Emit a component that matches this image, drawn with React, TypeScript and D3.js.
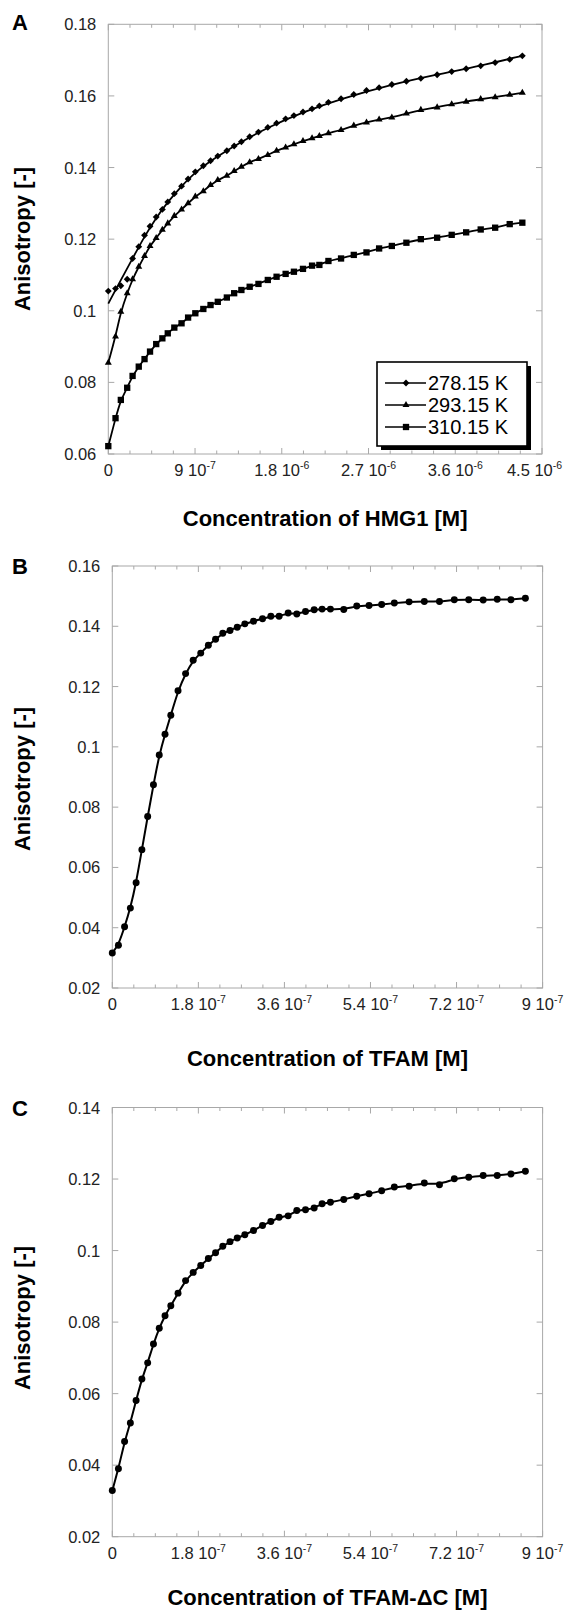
import React from 'react'
import * as d3 from 'd3'

const FONT = '"Liberation Sans", Arial, Helvetica, sans-serif'
const FRAME = '#a8a8a8'

// ---- Panel A: HMG1, concentration in units of 1e-6 M
const A_X = [0, 0.075, 0.13, 0.196, 0.252, 0.316, 0.376, 0.433, 0.497, 0.561, 0.617, 0.685, 0.76, 0.828, 0.903,
  0.986, 1.061, 1.136, 1.23, 1.306, 1.381, 1.467, 1.558, 1.655, 1.746, 1.84, 1.926, 2.02, 2.114, 2.19, 2.284,
  2.415, 2.547, 2.679, 2.81, 2.942, 3.093, 3.243, 3.412, 3.563, 3.713, 3.864, 4.014, 4.165, 4.296]
const A_278 = [0.1055, 0.1062, 0.107, 0.1088, 0.1146, 0.1179, 0.1211, 0.1236, 0.1262, 0.1283, 0.1304, 0.1327,
  0.1348, 0.1368, 0.1388, 0.1405, 0.1419, 0.1432, 0.1447, 0.146, 0.1472, 0.1486, 0.1499, 0.1512, 0.1524, 0.1536,
  0.1545, 0.1555, 0.1564, 0.1572, 0.1582, 0.1592, 0.1604, 0.1615, 0.1623, 0.1632, 0.1641, 0.1649, 0.1659, 0.1668,
  0.1676, 0.1684, 0.1693, 0.1702, 0.1712]
const A_293 = [0.0855, 0.0928, 0.0997, 0.1049, 0.1088, 0.1123, 0.1153, 0.1181, 0.1203, 0.1226, 0.1244, 0.1265,
  0.1283, 0.13, 0.1319, 0.1334, 0.1351, 0.1365, 0.1377, 0.139, 0.1402, 0.1415, 0.1424, 0.1435, 0.1447, 0.1456,
  0.1465, 0.1474, 0.1482, 0.1488, 0.1496, 0.1505, 0.1517, 0.1526, 0.1534, 0.154, 0.1551, 0.1561, 0.1568, 0.1577,
  0.1584, 0.1591, 0.1596, 0.1603, 0.1609]
const A_310 = [0.0622, 0.07, 0.0751, 0.0785, 0.0818, 0.0844, 0.0865, 0.0886, 0.0907, 0.0923, 0.0937, 0.0953,
  0.0965, 0.0981, 0.0993, 0.1005, 0.1016, 0.1025, 0.1037, 0.1049, 0.1058, 0.1067, 0.1075, 0.1086, 0.1095, 0.1103,
  0.1109, 0.1117, 0.1126, 0.1128, 0.1139, 0.1146, 0.1156, 0.1163, 0.1174, 0.1181, 0.119, 0.12, 0.1204, 0.1212,
  0.1219, 0.1227, 0.1232, 0.1242, 0.1246]
// fitted curve for 278.15 K (starts below the first point)
const A_FIT278_X = [0, 0.13, 0.252, 0.376, 0.497, 0.617, 0.76, 0.903, 1.136, 1.381, 1.655, 2.02, 2.415, 2.942, 3.412, 3.864, 4.296]
const A_FIT278_Y = [0.102, 0.1086, 0.1146, 0.1208, 0.126, 0.1304, 0.1348, 0.1388, 0.1432, 0.1472, 0.1512, 0.1555,
  0.1592, 0.1632, 0.166, 0.1684, 0.1712]
const A_Y_TICKS = [0.06, 0.08, 0.1, 0.12, 0.14, 0.16, 0.18]
const A_X_TICKS = [0, 0.9, 1.8, 2.7, 3.6, 4.5]
const A_X_LABELS = [['0', ''], ['9 10', '-7'], ['1.8 10', '-6'], ['2.7 10', '-6'], ['3.6 10', '-6'], ['4.5 10', '-6']]
const A_LEGEND = ['278.15 K', '293.15 K', '310.15 K']

// ---- Panel B: TFAM, concentration in units of 1e-7 M
const B_X = [0, 0.128, 0.257, 0.378, 0.498, 0.619, 0.74, 0.861, 0.982, 1.103, 1.224, 1.375, 1.533, 1.692, 1.85,
  2.009, 2.16, 2.311, 2.462, 2.613, 2.772, 2.953, 3.142, 3.316, 3.489, 3.678, 3.859, 4.041, 4.222, 4.388, 4.562,
  4.841, 5.113, 5.37, 5.634, 5.899, 6.208, 6.526, 6.843, 7.153, 7.455, 7.757, 8.051, 8.338, 8.64]
const B_Y = [0.0316, 0.0342, 0.0403, 0.0465, 0.0549, 0.0659, 0.0769, 0.0874, 0.0973, 0.1042, 0.1105, 0.1186,
  0.1243, 0.1287, 0.1311, 0.1337, 0.1357, 0.1377, 0.1386, 0.1397, 0.1408, 0.1417, 0.1425, 0.1433, 0.1433, 0.1444,
  0.1441, 0.1449, 0.1455, 0.1457, 0.1457, 0.1456, 0.1467, 0.1469, 0.1472, 0.1477, 0.1481, 0.1482, 0.1482, 0.1488,
  0.1488, 0.1487, 0.149, 0.1488, 0.1493]
const B_Y_TICKS = [0.02, 0.04, 0.06, 0.08, 0.1, 0.12, 0.14, 0.16]

// ---- Panel C: TFAM-ΔC, concentration in units of 1e-7 M
const C_X = B_X
const C_Y = [0.0329, 0.039, 0.0466, 0.0518, 0.0581, 0.0641, 0.0686, 0.0739, 0.0783, 0.0818, 0.0846, 0.0881,
  0.0916, 0.0939, 0.0958, 0.0978, 0.0994, 0.1012, 0.1025, 0.1035, 0.1044, 0.1056, 0.107, 0.1081, 0.1093, 0.1097,
  0.1112, 0.1114, 0.1119, 0.1131, 0.1135, 0.1143, 0.1152, 0.1159, 0.1167, 0.1178, 0.118, 0.1189, 0.1184, 0.1201,
  0.1205, 0.121, 0.121, 0.1214, 0.1222]
const C_Y_TICKS = [0.02, 0.04, 0.06, 0.08, 0.1, 0.12, 0.14]

const BC_X_TICKS = [0, 1.8, 3.6, 5.4, 7.2, 9]
const BC_X_LABELS = [['0', ''], ['1.8 10', '-7'], ['3.6 10', '-7'], ['5.4 10', '-7'], ['7.2 10', '-7'], ['9 10', '-7']]

const markerPath = {
  diamond: d3.symbol(d3.symbolDiamond2, 30)(),
  triangle: d3.symbol(d3.symbolTriangle, 21)(),
  square: d3.symbol(d3.symbolSquare, 40)(),
  circle: d3.symbol(d3.symbolCircle, 38)(),
}

const TICK_FS = 16.5
const SUP_FS = 10.5

// rough label width so the last tick label stays inside the page
function labelWidth(main: string, sup: string) {
  return main.length * TICK_FS * 0.5 + sup.length * SUP_FS * 0.45
}

type Series = { xs: number[]; ys: number[]; marker: keyof typeof markerPath; fitX?: number[]; fitY?: number[] }

function Panel(props: {
  frame: { left: number; right: number; top: number; bottom: number }
  xDomain: [number, number]; yDomain: [number, number]
  yTicks: number[]; xTicks: number[]; xLabels: string[][]
  letter: string; letterY: number
  xTitle: string; xTitleY: number; yTitleY: number
  series: Series[]; lineWidth: number
  legend?: string[]
}) {
  const { frame, xDomain, yDomain } = props
  const x = d3.scaleLinear().domain(xDomain).range([frame.left, frame.right])
  const y = d3.scaleLinear().domain(yDomain).range([frame.bottom, frame.top])
  const minorStep = (xDomain[1] - xDomain[0]) / 20
  const minors = d3.range(0, 21).map(i => xDomain[0] + i * minorStep)
  const line = d3.line<[number, number]>().x(d => x(d[0])).y(d => y(d[1])).curve(d3.curveBasis)
  const cx = (frame.left + frame.right) / 2

  return (
    <g fontFamily={FONT}>
      <text x={12} y={props.letterY} fontSize={22} fontWeight="bold">{props.letter}</text>
      <rect x={frame.left} y={frame.top} width={frame.right - frame.left} height={frame.bottom - frame.top}
        fill="none" stroke={FRAME} strokeWidth={1} />
      {minors.map((v, i) => {
        const len = i % 4 === 0 ? 6 : 3.5
        return (
          <g key={'mx' + i} stroke={FRAME}>
            <line x1={x(v)} x2={x(v)} y1={frame.bottom} y2={frame.bottom - len} />
            <line x1={x(v)} x2={x(v)} y1={frame.top} y2={frame.top + len} />
          </g>
        )
      })}
      {props.yTicks.map(v => (
        <g key={'y' + v}>
          <line x1={frame.left} x2={frame.left + 6} y1={y(v)} y2={y(v)} stroke={FRAME} />
          <line x1={frame.right} x2={frame.right - 6} y1={y(v)} y2={y(v)} stroke={FRAME} />
          <text x={frame.left - 12} y={y(v) + 6} textAnchor="end" fontSize={TICK_FS} fill="#222">
            {String(+v.toFixed(2))}
          </text>
        </g>
      ))}
      {props.xTicks.map((v, i) => {
        const [main, sup] = props.xLabels[i]
        const w = labelWidth(main, sup)
        const lx = Math.min(x(v), 564 - w / 2)
        return (
          <text key={'xl' + v} x={lx} y={frame.bottom + 22} textAnchor="middle" fontSize={TICK_FS} fill="#222">
            {main}
            {sup && <tspan fontSize={SUP_FS} dy={-7}>{sup}</tspan>}
          </text>
        )
      })}
      <text x={cx} y={props.xTitleY} textAnchor="middle" fontSize={22} fontWeight="bold">{props.xTitle}</text>
      <text transform={`translate(30,${props.yTitleY}) rotate(-90)`} textAnchor="middle" fontSize={22}
        fontWeight="bold">Anisotropy [-]</text>
      {props.series.map((s, si) => {
        const fx = s.fitX ?? s.xs
        const fy = s.fitY ?? s.ys
        const pts = fx.map((v, i) => [v, fy[i]] as [number, number])
        return (
          <g key={'s' + si}>
            <path d={line(pts) ?? ''} fill="none" stroke="#000" strokeWidth={props.lineWidth} />
            {s.xs.map((v, i) => (
              <path key={i} d={markerPath[s.marker] ?? ''} transform={`translate(${x(v)},${y(s.ys[i])})`} fill="#000" />
            ))}
          </g>
        )
      })}
      {props.legend && (
        <g>
          <rect x={381} y={366} width={150} height={84} fill="#000" />
          <rect x={377} y={362} width={150} height={84} fill="#fff" stroke="#000" strokeWidth={1.6} />
          {props.legend.map((name, i) => {
            const ly = 383 + i * 22
            return (
              <g key={name}>
                <line x1={385} x2={426} y1={ly} y2={ly} stroke="#000" strokeWidth={1.7} />
                <path d={markerPath[props.series[i].marker] ?? ''} transform={`translate(406,${ly})`} fill="#000" />
                <text x={428} y={ly + 7} fontSize={20}>{name}</text>
              </g>
            )
          })}
        </g>
      )}
    </g>
  )
}

export default function App() {
  return (
    <svg width={566} height={1611} style={{ position: 'absolute', left: 0, top: 0, background: '#fff' }}>
      <rect width={566} height={1611} fill="#fff" />
      <Panel
        frame={{ left: 108.3, right: 542, top: 24.3, bottom: 454 }}
        xDomain={[0, 4.5]} yDomain={[0.06, 0.18]}
        yTicks={A_Y_TICKS} xTicks={A_X_TICKS} xLabels={A_X_LABELS}
        letter="A" letterY={30} xTitle="Concentration of HMG1 [M]" xTitleY={526} yTitleY={239}
        lineWidth={1.8}
        series={[
          { xs: A_X, ys: A_278, marker: 'diamond', fitX: A_FIT278_X, fitY: A_FIT278_Y },
          { xs: A_X, ys: A_293, marker: 'triangle' },
          { xs: A_X, ys: A_310, marker: 'square' },
        ]}
        legend={A_LEGEND}
      />
      <Panel
        frame={{ left: 112.3, right: 542.6, top: 566, bottom: 988 }}
        xDomain={[0, 9]} yDomain={[0.02, 0.16]}
        yTicks={B_Y_TICKS} xTicks={BC_X_TICKS} xLabels={BC_X_LABELS}
        letter="B" letterY={574} xTitle="Concentration of TFAM [M]" xTitleY={1066} yTitleY={779}
        lineWidth={2}
        series={[{ xs: B_X, ys: B_Y, marker: 'circle' }]}
      />
      <Panel
        frame={{ left: 112.3, right: 542.6, top: 1107.5, bottom: 1536.7 }}
        xDomain={[0, 9]} yDomain={[0.02, 0.14]}
        yTicks={C_Y_TICKS} xTicks={BC_X_TICKS} xLabels={BC_X_LABELS}
        letter="C" letterY={1116} xTitle="Concentration of TFAM-ΔC [M]" xTitleY={1605} yTitleY={1318}
        lineWidth={2}
        series={[{ xs: C_X, ys: C_Y, marker: 'circle' }]}
      />
    </svg>
  )
}
